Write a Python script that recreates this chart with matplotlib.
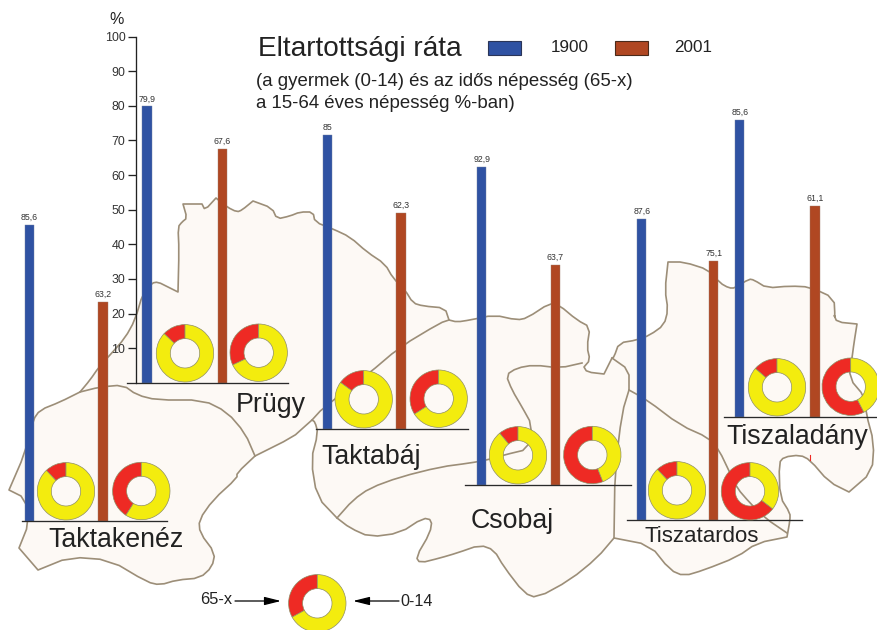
import matplotlib
matplotlib.use("Agg")
import matplotlib.pyplot as plt
from matplotlib.patches import Polygon, Rectangle

plt.rcParams['font.family'] = ['Liberation Sans', 'DejaVu Sans']

W, H = 877, 630

# ---- data ----
places = ["Taktakenéz", "Prügy", "Taktabáj", "Csobaj", "Tiszatardos", "Tiszaladány"]
labels_1900 = ["85,6", "79,9", "85", "92,9", "87,6", "85,6"]
labels_2001 = ["63,2", "67,6", "62,3", "63,7", "75,1", "61,1"]
heights_1900 = [85.6, 79.9, 85.0, 92.0, 87.1, 85.8]
heights_2001 = [63.2, 67.6, 62.3, 63.5, 75.0, 61.0]
old_share_1900 = [12, 13, 15, 11, 12, 13.6]
old_share_2001 = [41, 32, 34, 56, 64.5, 57.6]
key_share = 33
y_ticks = [10, 20, 30, 40, 50, 60, 70, 80, 90, 100]

# ---- layout (pixels) ----
baseline_y = [520.7, 382.7, 428.7, 484.7, 520.3, 416.7]
baseline_x = [(22, 167), (127, 288), (316, 468), (465, 631), (627, 802), (724, 877)]
bar_x_1900 = [29.3, 146.8, 327.6, 481.7, 641.8, 739.8]
bar_x_2001 = [102.8, 222.5, 400.8, 555.3, 713.7, 815.0]
donut_1900 = [(66, 491.3), (185, 353.3), (363.7, 399.3), (518, 455.3), (677, 490.3), (777, 387.3)]
donut_2001 = [(141.3, 491), (258.7, 352.7), (438.7, 398.7), (592.3, 455), (750, 491.3), (850.7, 386.7)]
name_pos = [(116.5, 540), (270.5, 405), (371, 457), (512, 521), (701.5, 536), (797, 437)]
name_size = [19.3, 19.3, 19.3, 19.3, 16, 19.3]
PX_PER_UNIT = 3.457
BAR_W = 9.4
R_OUT, R_IN = 28.7, 14.7

BLUE, BROWN = "#2F52A3", "#B04722"
RED, YELLOW = "#EE2A24", "#F3EC0E"
MAP_FILL, MAP_EDGE = "#FDF9F5", "#9C8E78"
INK = "#222222"

outline = [(9,490),(25,498),(29,523),(19,548),(38,570),(70,557),(110,560),(147,582),(160,585),(177,580),
 (200,578),(212,567),(215,553),(200,533),(199,520),(213,500),(237,478),(237,473),(255,456),(293,437),
 (303,428),(312,420),(315,422),(318,433),(311,460),(317,497),(337,518),(350,528),(370,537),(400,533),
 (423,518),(432,520),(430,533),(416,557),(420,563),(440,558),(457,553),(480,545),(494,550),(504,567),
 (524,593),(537,598),(570,580),(597,558),(614,538),(650,545),(670,570),(684,576),(704,570),(737,557),
 (757,543),(787,537),(790,520),(790,513),(780,497),(779,463),(784,457),(800,455),(810,460),(829,482),
 (849,492),(872,472),(874,443),(866,413),(865,397),(849,378),(852,358),(854,343),(857,324),(837,322),
 (834,315),(835,317),(834,298),(810,287),(790,286),(767,288),(754,280),(749,279),(735,288),(729,288),
 (720,283),(709,270),(684,262),(668,262),(665,290),(668,310),(664,325),(650,335),(637,340),(619,343),
 (614,357),(612,358),(604,374),(587,372),(584,367),(590,360),(587,347),(590,327),(577,320),(559,305),
 (550,303),(527,318),(517,320),(494,315),(470,320),(457,322),(449,320),(445,308),(423,306),(413,303),
 (405,290),(393,278),(385,264),(367,252),(350,237),(333,229),(315,222),(313,212),(300,212),(290,216),
 (277,219),(272,208),(253,201),(242,210),(237,212),(227,207),(216,198),(205,210),(202,204),(183,204),
 (187,218),(182,222),(178,227),(179,250),(178,292),(168,287),(158,282),(152,283),(143,293),(135,320),
 (125,338),(110,355),(99,367),(90,380),(80,392),(60,402),(40,410),(33,420),(25,453)]
border_a = [(80,392),(100,387),(123,385),(137,395),(157,400),(203,400),(227,412),(245,433),(255,456)]
border_b = [(312,420),(323,408),(367,375),(400,347),(440,323),(449,320)]
border_c = [(337,518),(353,500),(370,488),(400,477),(440,467),(470,463),(487,460),(504,455),(529,449),
            (532,425),(522,407),(512,390),(506,375),(517,368),(534,365),(560,368),(582,363)]
border_d = [(612,358),(629,370),(629,390),(622,413),(615,470),(614,538)]
border_e = [(629,390),(647,400),(680,425),(709,438),(719,450),(730,473),(737,488),(750,503),(765,518),(787,533)]
sharp_corners = {(9,490),(19,548),(38,570),(255,456),(312,420),(337,518),(614,538),(787,537),(849,492),
                 (183,204),(202,204),(668,262),(216,198),(612,358),(629,390),(80,392),(449,320),(857,324),
                 (178,292),(253,201),(584,367),(604,374)}


def round_corners(pts, closed=False):
    """Cut each soft corner of a traced border; keep the sharp ones."""
    out = []
    n = len(pts)
    for k, (x, y) in enumerate(pts):
        if (x, y) in sharp_corners or (not closed and k in (0, n - 1)):
            out.append((x, y))
            continue
        xp, yp = pts[(k - 1) % n]
        xn, yn = pts[(k + 1) % n]
        out.append((0.75 * x + 0.25 * xp, 0.75 * y + 0.25 * yp))
        out.append((0.75 * x + 0.25 * xn, 0.75 * y + 0.25 * yn))
    return out


fig = plt.figure(figsize=(W / 100, H / 100), dpi=100, facecolor="white")

# map + text layer, in pixel coordinates
base = fig.add_axes([0, 0, 1, 1], zorder=0)
base.set_xlim(0, W)
base.set_ylim(H, 0)
base.axis("off")
base.add_patch(Polygon(round_corners(outline, closed=True), closed=True, fc=MAP_FILL, ec=MAP_EDGE, lw=1.2, joinstyle="round"))
for line in (border_a, border_b, border_c, border_d, border_e):
    base.plot(*zip(*round_corners(line)), color=MAP_EDGE, lw=1.2, solid_joinstyle="round")
base.plot([809.5, 809.5], [455, 460], color=RED, lw=0.8)

for name, (x, y), s in zip(places, name_pos, name_size):
    base.text(x, y, name, fontsize=s, color=INK, ha="center", va="center")

base.text(258, 49, "Eltartottsági ráta", fontsize=20.2, color=INK, ha="left", va="center")
base.text(255.5, 81, "(a gyermek (0-14) és az idős népesség (65-x)", fontsize=13.45, color=INK, ha="left", va="center")
base.text(255.5, 103, "a 15-64 éves népesség %-ban)", fontsize=13.45, color=INK, ha="left", va="center")
base.add_patch(Rectangle((488, 41), 33, 14, fc=BLUE, ec="#2A3558", lw=0.8))
base.add_patch(Rectangle((615, 41), 33, 14, fc=BROWN, ec="#4A2A1A", lw=0.8))
base.text(570, 47, "1900", fontsize=12.3, color=INK, ha="center", va="center")
base.text(693.5, 47, "2001", fontsize=12.3, color=INK, ha="center", va="center")
base.text(117, 19.5, "%", fontsize=11.5, color=INK, ha="center", va="center")

base.text(216, 600, "65-x", fontsize=11.8, color=INK, ha="center", va="center")
base.text(417, 601, "0-14", fontsize=11.6, color=INK, ha="center", va="center")
arrow = dict(arrowstyle="-|>,head_length=1.0,head_width=0.25", color="black", lw=0.9, shrinkA=0, shrinkB=0)
base.annotate("", xy=(281, 601), xytext=(235, 601), arrowprops=arrow)
base.annotate("", xy=(353, 601), xytext=(399, 601), arrowprops=arrow)


def donut(center, share):
    cx, cy = center
    size = 2 * R_OUT
    ax = fig.add_axes([(cx - R_OUT) / W, 1 - (cy + R_OUT) / H, size / W, size / H], zorder=3)
    ax.pie([share, 100 - share], colors=[RED, YELLOW], startangle=90, counterclock=True, radius=1,
           wedgeprops=dict(width=1 - R_IN / R_OUT, edgecolor="#8E8E66", linewidth=0.5))
    ax.set_xlim(-1, 1)
    ax.set_ylim(-1, 1)
    for p in ax.patches:
        p.set_clip_on(False)


# one % axis per settlement, all on the same scale
for i, place in enumerate(places):
    y0 = baseline_y[i]
    ax = fig.add_axes([0, 1 - y0 / H, 1, 100 * PX_PER_UNIT / H], zorder=1)
    ax.patch.set_alpha(0)
    ax.axis("off")
    ax.set_xlim(0, W)
    ax.set_ylim(0, 100)
    ax.bar([bar_x_1900[i]], [heights_1900[i]], width=BAR_W, color=BLUE, edgecolor="#6F7F9F", linewidth=0.3)
    ax.bar([bar_x_2001[i]], [heights_2001[i]], width=BAR_W, color=BROWN, edgecolor="#A0806F", linewidth=0.3)
    ax.text(bar_x_1900[i], heights_1900[i] + 0.9, labels_1900[i], fontsize=6.3, color="#333333", ha="center", va="bottom")
    ax.text(bar_x_2001[i], heights_2001[i] + 0.9, labels_2001[i], fontsize=6.3, color="#333333", ha="center", va="bottom")
    ax.plot(baseline_x[i], [0, 0], color="#2A2A2A", lw=0.95, clip_on=False, zorder=5)
    donut(donut_1900[i], old_share_1900[i])
    donut(donut_2001[i], old_share_2001[i])

donut((317.3, 603.3), key_share)

# value axis
scale = fig.add_axes([135.5 / W, 1 - 382.7 / H, 1 / W, 346 / H], zorder=2)
scale.patch.set_alpha(0)
scale.set_ylim(0, 100)
scale.set_xticks([])
scale.set_yticks(y_ticks)
for side in ("top", "right", "bottom"):
    scale.spines[side].set_visible(False)
scale.spines["left"].set_linewidth(0.95)
scale.spines["left"].set_color("#222222")
scale.tick_params(axis="y", length=5.8, width=0.95, pad=1.5, labelsize=8.9, color="#222222", labelcolor="#333333")

fig.savefig("out.png", dpi=100)
